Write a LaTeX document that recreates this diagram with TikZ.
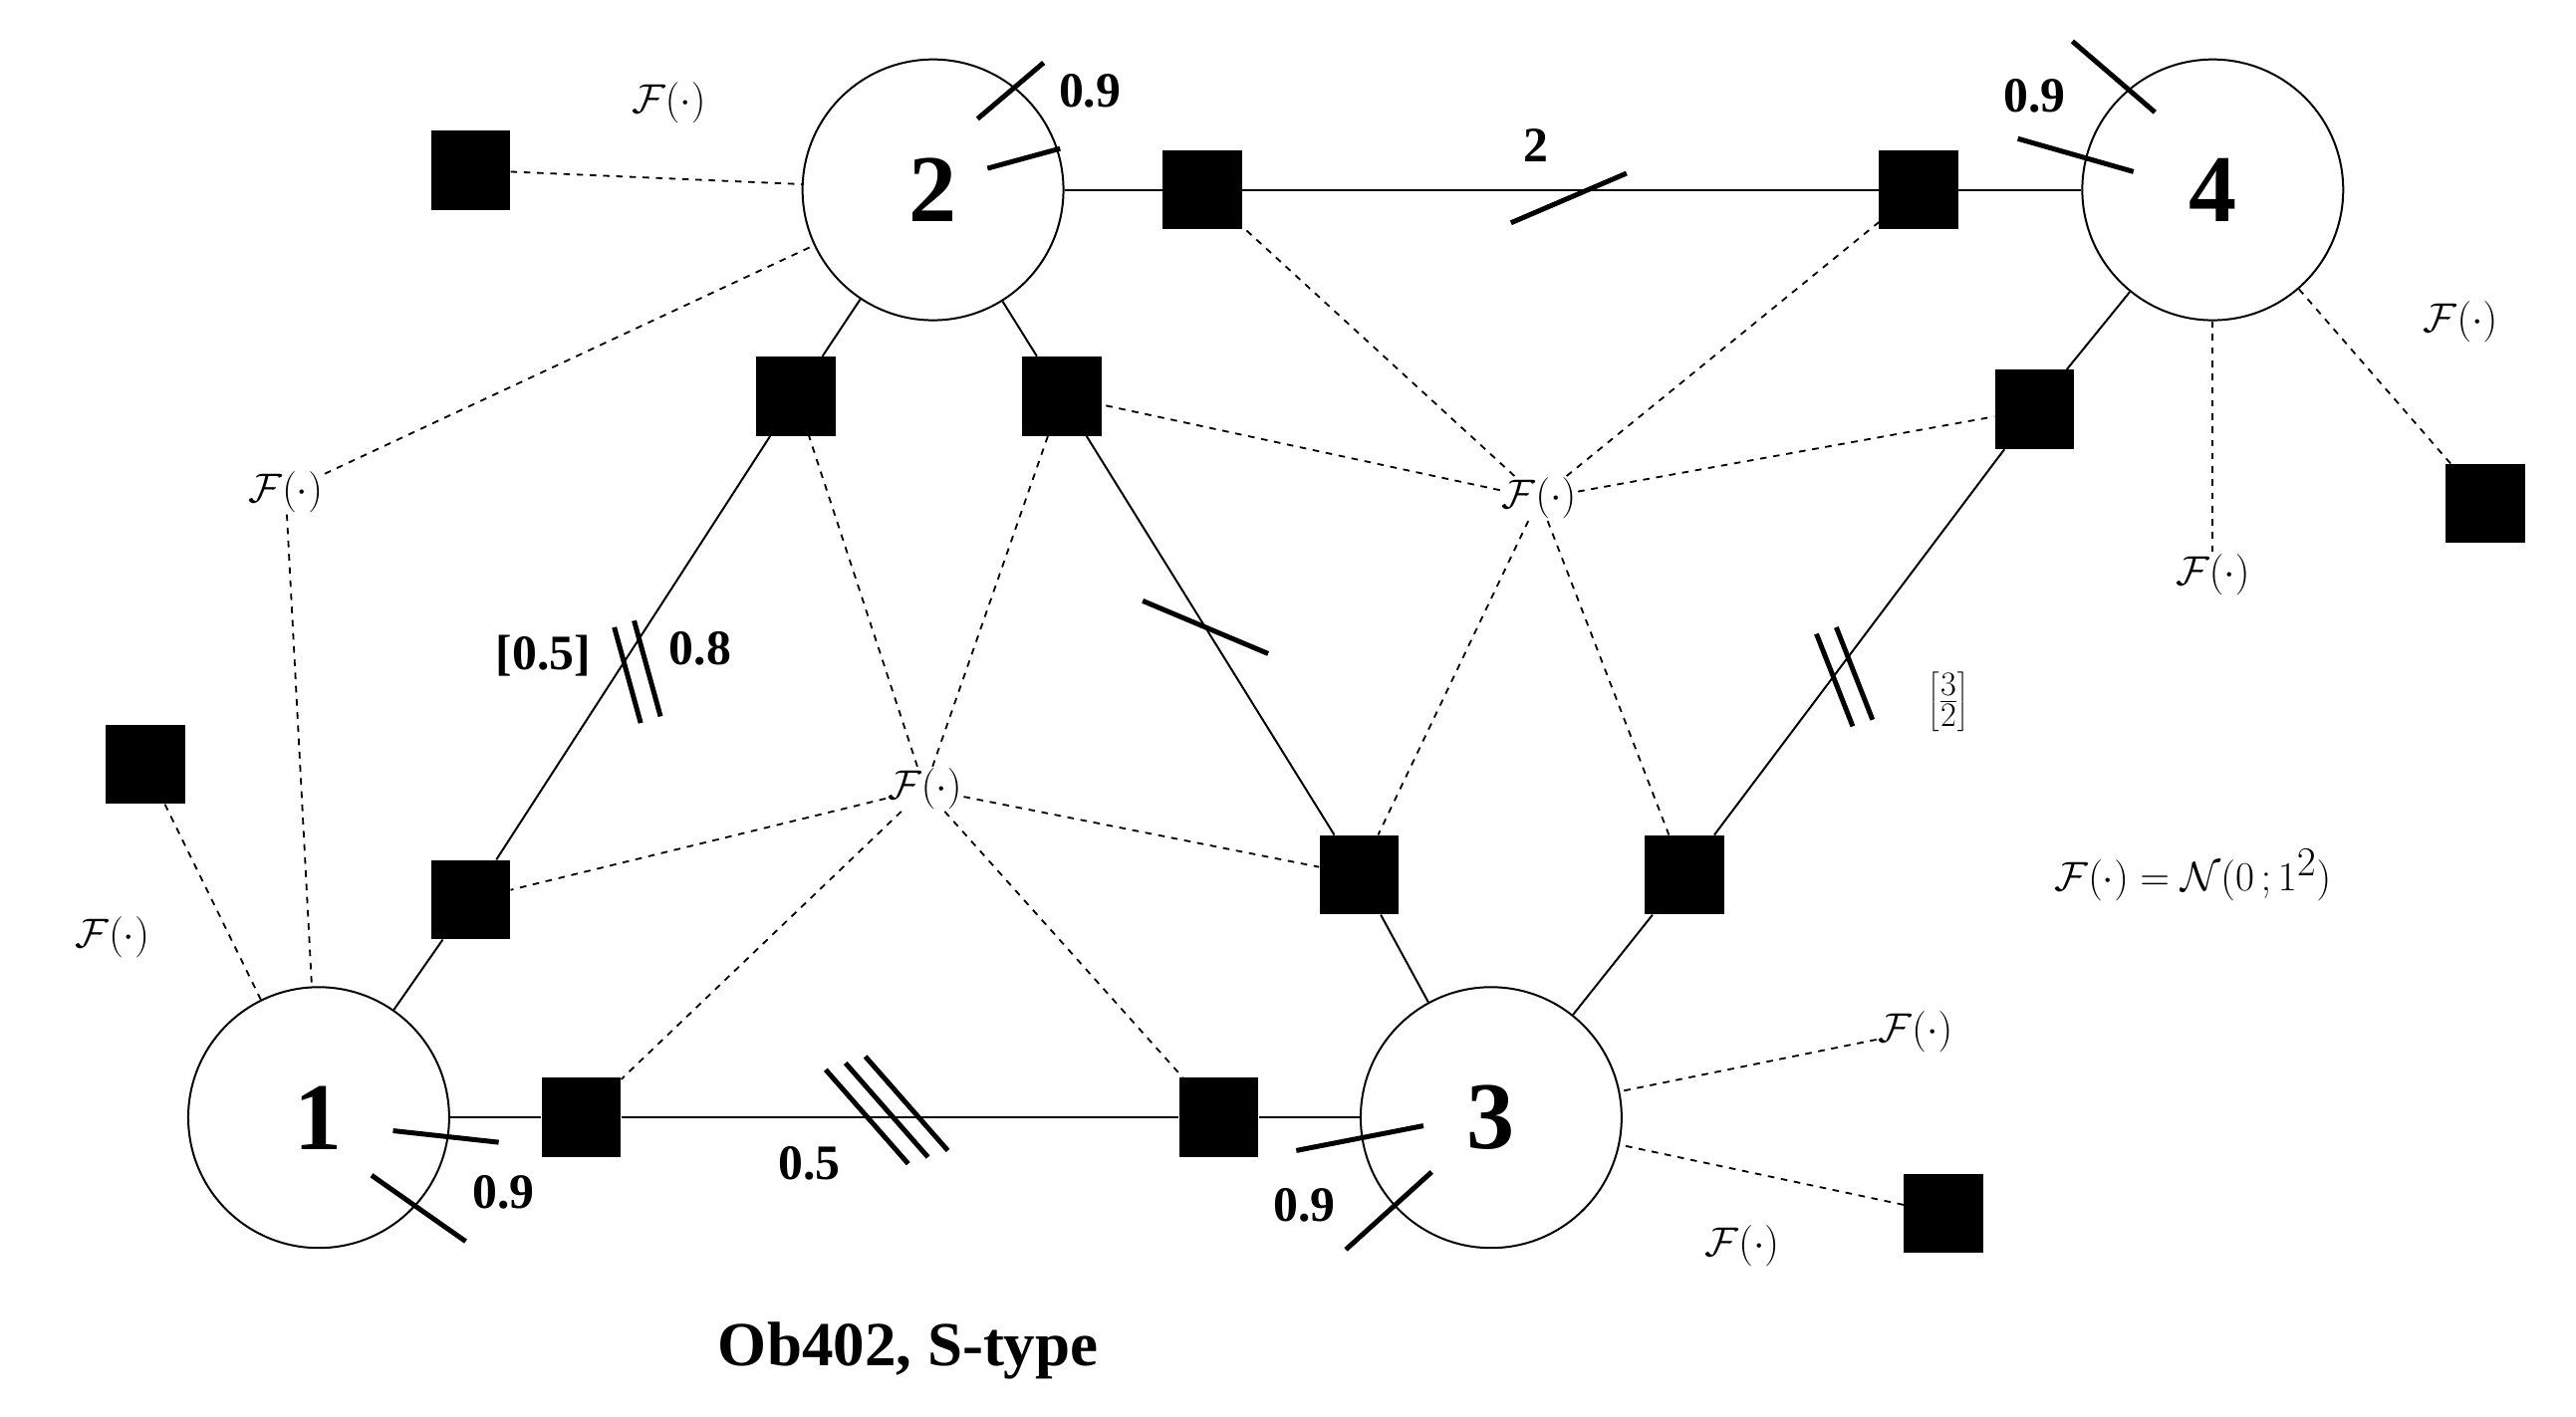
\documentclass[tikz,border=0pt]{standalone}
\usepackage{fontspec}
\setmainfont{Liberation Serif}
\begin{document}
\begin{tikzpicture}[x=1pt,y=-1pt,
 var/.style={circle,draw,line width=1.2pt,minimum size=158pt,inner sep=0pt,font=\fontsize{58}{60}\selectfont\bfseries},
 fac/.style={fill=black,minimum size=48pt,inner sep=0pt},
 fl/.style={inner sep=1pt,font=\fontsize{40}{44}\selectfont},
 sl/.style={line width=1.2pt},
 ds/.style={dashed,line width=1.1pt,dash pattern=on 4pt off 4pt},
 tk/.style={line width=3pt},
 lb/.style={font=\fontsize{30}{32}\selectfont\bfseries,inner sep=0pt}]
\useasboundingbox (0,0) rectangle (1560,858);
\node[var] (v2) at (565,115) {2};
\node[var] (v4) at (1340,115) {4};
\node[var] (v1) at (193,677) {1};
\node[var] (v3) at (903,677) {3};
\node[fac] (s2L) at (285,103) {};
\node[fac] (s24a) at (728,115) {};
\node[fac] (s24b) at (1162,115) {};
\node[fac] (s2a) at (482,240) {};
\node[fac] (s2b) at (643,240) {};
\node[fac] (s4a) at (1232,248) {};
\node[fac] (s4R) at (1505,305) {};
\node[fac] (s1L) at (88,463) {};
\node[fac] (s1a) at (285,545) {};
\node[fac] (s3a) at (823,530) {};
\node[fac] (s3b) at (1020,530) {};
\node[fac] (s13a) at (352,677) {};
\node[fac] (s13b) at (738,677) {};
\node[fac] (s3R) at (1177,735) {};
\node[fl] (Ftop) at (405,62) {$\mathcal{F}(\cdot)$};
\node[fl] (Fleft) at (173,298) {$\mathcal{F}(\cdot)$};
\node[fl] (F1L) at (68,568) {$\mathcal{F}(\cdot)$};
\node[fl] (Fmid) at (560,478) {$\mathcal{F}(\cdot)$};
\node[fl] (Fc) at (932,302) {$\mathcal{F}(\cdot)$};
\node[fl] (F4R) at (1490,195) {$\mathcal{F}(\cdot)$};
\node[fl] (F4B) at (1340,348) {$\mathcal{F}(\cdot)$};
\node[fl] (Feq) at (1328,530) {$\mathcal{F}(\cdot)=\mathcal{N}\big(0\,;1^2\big)$};
\node[fl] (F3a) at (1160,625) {$\mathcal{F}(\cdot)$};
\node[fl] (F3b) at (1055,755) {$\mathcal{F}(\cdot)$};
% solid
\draw[sl] (v2)--(s24a)--(s24b)--(v4);
\draw[sl] (v2)--(s2a)--(s1a)--(v1);
\draw[sl] (v2)--(s2b)--(s3a)--(v3);
\draw[sl] (v4)--(s4a)--(s3b)--(v3);
\draw[sl] (v1)--(s13a)--(s13b)--(v3);
% dashed
\draw[ds] (s2L)--(v2); \draw[ds] (s1L)--(v1); \draw[ds] (s4R)--(v4); \draw[ds] (s3R)--(v3);
\draw[ds] (Fleft)--(v2); \draw[ds] (Fleft)--(v1);
\foreach \s in {s2a,s2b,s1a,s13a,s13b,s3a} \draw[ds] (Fmid)--(\s);
\foreach \s in {s24a,s24b,s2b,s4a,s3a,s3b} \draw[ds] (Fc)--(\s);
\draw[ds] (F4B)--(v4); \draw[ds] (F3a)--(v3);
% ticks
\draw[tk] (915,135)--(985,105);
\node[lb] (l2) at (930,88) {2};
\draw[tk] (372,380)--(388,438); \draw[tk] (384,376)--(400,434);
\node[lb,anchor=east] (l05) at (358,397) {[0.5]};
\node[lb,anchor=west] (l08) at (405,393) {0.8};
\draw[tk] (692,364)--(768,396);
\draw[tk] (1100,384)--(1122,440); \draw[tk] (1112,380)--(1134,436);
\node[font=\fontsize{30}{32}\selectfont\bfseries,inner sep=0pt] (l32) at (1180,425) {$\left[\frac{3}{2}\right]$};
\draw[tk] (500,648)--(550,705); \draw[tk] (512,644)--(562,701); \draw[tk] (524,640)--(574,697);
\node[lb] (l05b) at (490,705) {0.5};
% circle ticks
\draw[tk] (592,72)--(632,38); \draw[tk] (598,102)--(642,90); \node[lb] (a2) at (660,55) {0.9};
\draw[tk] (1255,25)--(1305,68); \draw[tk] (1222,84)--(1292,104); \node[lb] (a4) at (1232,58) {0.9};
\draw[tk] (238,685)--(302,692); \draw[tk] (225,712)--(282,752); \node[lb] (a1) at (305,722) {0.9};
\draw[tk] (785,697)--(862,682); \draw[tk] (815,757)--(867,710); \node[lb] (a3) at (790,730) {0.9};
\node[font=\fontsize{38}{40}\selectfont\bfseries] (title) at (550,818) {Ob402, S-type};
\end{tikzpicture}
\end{document}
